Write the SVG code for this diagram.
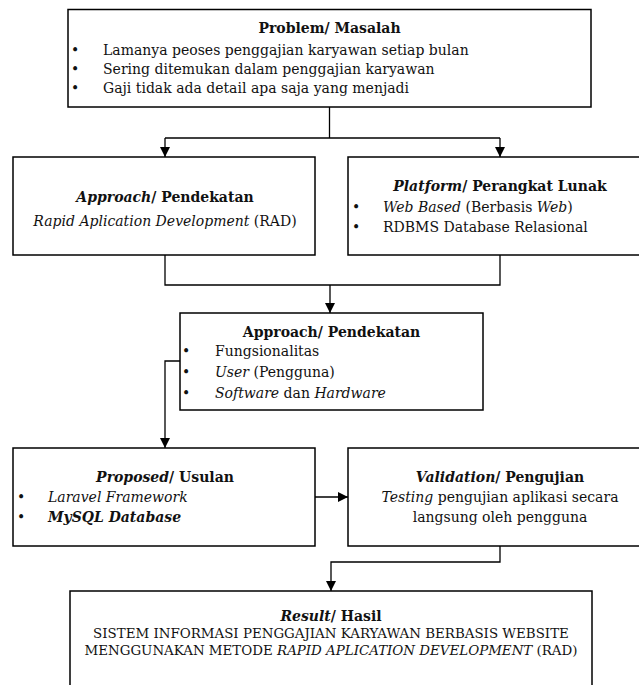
<svg xmlns="http://www.w3.org/2000/svg" width="639" height="685" viewBox="0 0 639 685">
<defs>
<marker id="arr" markerUnits="userSpaceOnUse" markerWidth="10" markerHeight="10" refX="10" refY="5" orient="auto">
<path d="M0,0 L10,5 L0,10 z" fill="#000"/>
</marker>
<style>
.box{fill:#fff;stroke:#000;stroke-width:1.5}
.ln{fill:none;stroke:#000;stroke-width:1.3}
text{font-family:"DejaVu Serif","Liberation Serif",serif;font-size:14px;fill:#111}
.c{text-anchor:middle}
.b{font-weight:bold}
.i{font-style:italic}
.s{font-size:13.4px}
</style>
</defs>
<rect width="639" height="685" fill="#fff"/>
<g id="connectors">
<path class="ln" d="M329.5,107 V138"/>
<path class="ln" d="M165,138 H500"/>
<path class="ln" d="M165,138 V157" marker-end="url(#arr)"/>
<path class="ln" d="M500,138 V157" marker-end="url(#arr)"/>
<path class="ln" d="M165,255 V285 H500 V255"/>
<path class="ln" d="M330,285 V313" marker-end="url(#arr)"/>
<path class="ln" d="M180,361 H165 V448" marker-end="url(#arr)"/>
<path class="ln" d="M315,497 H348" marker-end="url(#arr)"/>
<path class="ln" d="M500,546 V562 H331 V591" marker-end="url(#arr)"/>
</g>
<g id="problem">
<rect class="box" x="68" y="9.5" width="523" height="97.5"/>
<text class="c b" x="329.5" y="33">Problem/ Masalah</text>
<text x="71" y="55">•</text><text x="103" y="55">Lamanya peoses penggajian karyawan setiap bulan</text>
<text x="71" y="74">•</text><text x="103" y="74">Sering ditemukan dalam penggajian karyawan</text>
<text x="71" y="93">•</text><text x="103" y="93">Gaji tidak ada detail apa saja yang menjadi</text>
</g>
<g id="approach1">
<rect class="box" x="13" y="157" width="302" height="98"/>
<text class="c b" x="165" y="202"><tspan class="i">Approach</tspan>/ Pendekatan</text>
<text class="c" x="165" y="226"><tspan class="i">Rapid Aplication Development</tspan> (RAD)</text>
</g>
<g id="platform">
<rect class="box" x="348" y="157" width="300" height="98"/>
<text class="c b" x="500" y="191"><tspan class="i">Platform</tspan>/ Perangkat Lunak</text>
<text x="352" y="212">•</text><text x="383" y="212"><tspan class="i">Web Based</tspan> (Berbasis <tspan class="i">Web</tspan>)</text>
<text x="352" y="232">•</text><text x="383" y="232">RDBMS Database Relasional</text>
</g>
<g id="approach2">
<rect class="box" x="180" y="313" width="303" height="97"/>
<text class="c b" x="331.5" y="337">Approach/ Pendekatan</text>
<text x="182" y="356">•</text><text x="215" y="356">Fungsionalitas</text>
<text x="182" y="377">•</text><text x="215" y="377"><tspan class="i">User</tspan> (Pengguna)</text>
<text x="182" y="398">•</text><text x="215" y="398"><tspan class="i">Software</tspan> dan <tspan class="i">Hardware</tspan></text>
</g>
<g id="proposed">
<rect class="box" x="13" y="448" width="302" height="98"/>
<text class="c b" x="165" y="482"><tspan class="i">Proposed</tspan>/ Usulan</text>
<text x="17" y="502">•</text><text class="i" x="48" y="502">Laravel Framework</text>
<text x="17" y="522">•</text><text class="i b" x="48" y="522">MySQL Database</text>
</g>
<g id="validation">
<rect class="box" x="348" y="448" width="300" height="98"/>
<text class="c b" x="500" y="482"><tspan class="i">Validation</tspan>/ Pengujian</text>
<text class="c" x="500" y="502"><tspan class="i">Testing</tspan> pengujian aplikasi secara</text>
<text class="c" x="500" y="522">langsung oleh pengguna</text>
</g>
<g id="result">
<rect class="box" x="70" y="591" width="522" height="110"/>
<text class="c b" x="331" y="621"><tspan class="i">Result</tspan>/ Hasil</text>
<text class="c s" x="331" y="638">SISTEM INFORMASI PENGGAJIAN KARYAWAN BERBASIS WEBSITE</text>
<text class="c s" x="331" y="655">MENGGUNAKAN METODE <tspan class="i">RAPID APLICATION DEVELOPMENT</tspan> (RAD)</text>
</g>
</svg>
